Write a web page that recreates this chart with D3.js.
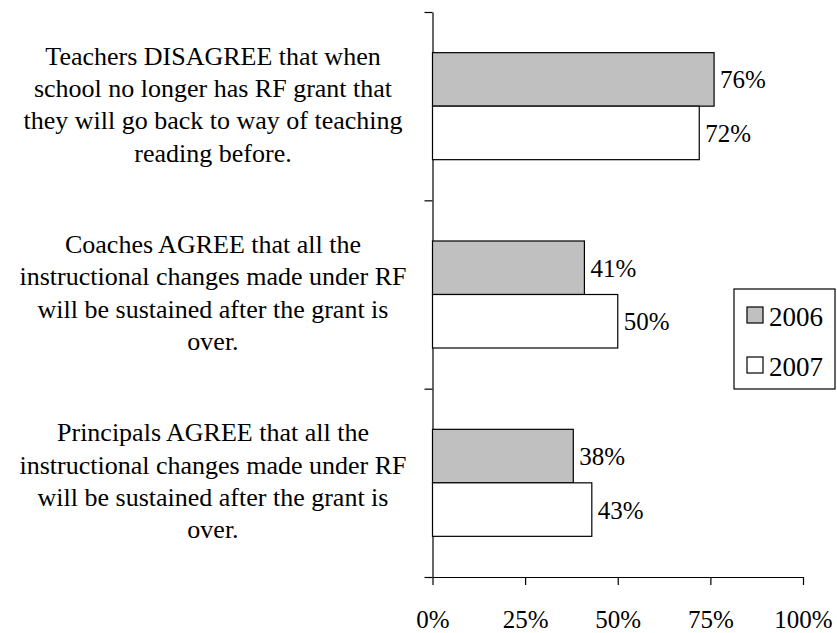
<!DOCTYPE html>
<html><head><meta charset="utf-8"><script src="https://cdn.jsdelivr.net/npm/d3@7"></script></head>
<body style="margin:0">
<svg id="fig" width="837" height="633"></svg>
<script>
// ---- data ----
const categories = [
  ["Teachers DISAGREE that when", "school no longer has RF grant that", "they will go back to way of teaching", "reading before."],
  ["Coaches AGREE that all the", "instructional changes made under RF", "will be sustained after the grant is", "over."],
  ["Principals AGREE that all the", "instructional changes made under RF", "will be sustained after the grant is", "over."]
];
const seriesNames = ["2006", "2007"];
const values2006 = [0.76, 0.41, 0.38];
const values2007 = [0.72, 0.50, 0.43];
const tickValues = [0, 0.25, 0.5, 0.75, 1];
const tickLabels = ["0%", "25%", "50%", "75%", "100%"];

const colors = { "2006": "#c0c0c0", "2007": "#ffffff" };
const FONT = '"Times New Roman"';
const serif = sel => sel.style("font-family", FONT);

const svg = d3.select("#fig");
const plot = { left: 432.5, right: 803, top: 12, bottom: 577 };

const x = d3.scaleLinear().domain([0, 1]).range([plot.left, plot.right]);
const catIdx = categories.map((c, i) => i);
const y = d3.scaleBand().domain(catIdx).range([plot.top, plot.bottom]).padding(0);
const ySeries = d3.scaleBand().domain(seriesNames).range([0, y.bandwidth()])
  .paddingInner(0).paddingOuter(0.76);

const rows = catIdx.map(i => ({ i, vals: [
  { s: "2006", v: values2006[i] }, { s: "2007", v: values2007[i] }
]}));

// y axis (category boundaries)
const boundaries = d3.scaleLinear().domain([0, categories.length]).range([plot.top, plot.bottom]);
svg.append("g")
  .attr("transform", `translate(${x(0)},0)`)
  .call(d3.axisLeft(boundaries).tickValues(d3.range(categories.length + 1)).tickSize(8).tickSizeOuter(0).tickFormat(""))
  .call(a => a.select(".domain").attr("stroke", "#000").attr("stroke-width", 1.2))
  .call(a => a.selectAll(".tick line").attr("stroke", "#000").attr("stroke-width", 1.2));

// x axis
svg.append("g")
  .attr("transform", `translate(0,${plot.bottom})`)
  .call(d3.axisBottom(x).tickValues(tickValues).tickSize(8).tickSizeOuter(0).tickFormat((d, i) => tickLabels[i]))
  .call(serif)
  .attr("font-size", 25)
  .call(a => a.select(".domain").attr("stroke", "#000").attr("stroke-width", 1.2))
  .call(a => a.selectAll(".tick line").attr("stroke", "#000").attr("stroke-width", 1.2))
  .call(a => a.selectAll(".tick text").call(serif)
      .attr("font-size", 25).attr("fill", "#000").attr("dy", null).attr("y", 51));

// bars
const grp = svg.append("g").selectAll("g").data(rows).join("g")
  .attr("transform", d => `translate(0,${y(d.i)})`);
grp.selectAll("rect").data(d => d.vals).join("rect")
  .attr("x", x(0))
  .attr("y", d => ySeries(d.s))
  .attr("width", d => x(d.v) - x(0))
  .attr("height", ySeries.bandwidth())
  .attr("fill", d => colors[d.s])
  .attr("stroke", "#000")
  .attr("stroke-width", 1.2);

// value labels
svg.append("g").selectAll("text")
  .data(rows.flatMap(r => r.vals.map(v => ({ i: r.i, s: v.s, v: v.v }))))
  .join("text")
  .call(serif)
  .attr("x", d => x(d.v) + 6)
  .attr("y", d => y(d.i) + ySeries(d.s) + ySeries.bandwidth() / 2 + 9)
  .attr("font-size", 25)
  .attr("fill", "#000")
  .text(d => Math.round(d.v * 100) + "%");

// category labels (one text per line)
const lh = 32.3;
svg.append("g").selectAll("text")
  .data(rows.flatMap(r => categories[r.i].map((line, k, arr) => ({ i: r.i, k, n: arr.length, line }))))
  .join("text")
  .call(serif)
  .attr("font-size", 26)
  .attr("fill", "#000")
  .attr("text-anchor", "middle")
  .attr("x", 213)
  .attr("y", d => y(d.i) + y.bandwidth() / 2 + (d.k - (d.n - 1) / 2) * lh + 7)
  .text(d => d.line);

// legend
const lg = svg.append("g");
lg.append("rect").attr("x", 734).attr("y", 289).attr("width", 101).attr("height", 100)
  .attr("fill", "#fff").attr("stroke", "#000").attr("stroke-width", 1.2);
lg.selectAll("rect.sw").data(seriesNames).join("rect")
  .attr("class", "sw")
  .attr("x", 747).attr("y", (d, i) => 307 + i * 50)
  .attr("width", 16).attr("height", 16)
  .attr("fill", d => colors[d]).attr("stroke", "#000").attr("stroke-width", 1.2);
lg.selectAll("text").data(seriesNames).join("text")
  .call(serif)
  .attr("fill", "#000")
  .attr("x", 769).attr("y", (d, i) => 326 + i * 50)
  .attr("font-size", 27).text(d => d);
</script>
</body></html>
